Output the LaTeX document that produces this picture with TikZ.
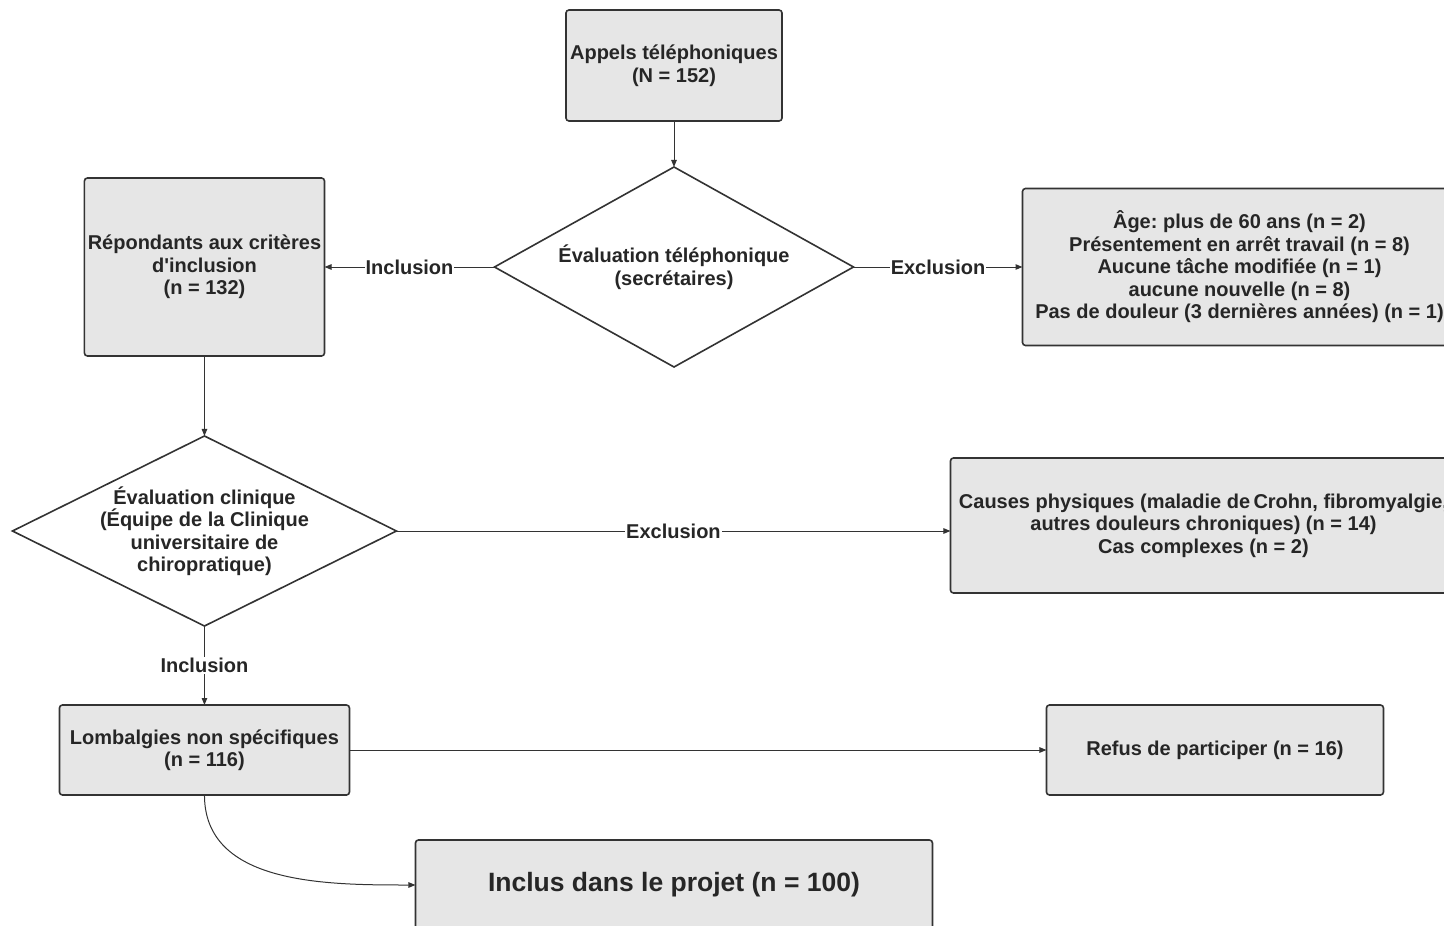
\documentclass[tikz,border=0pt]{standalone}
\usepackage{fontspec}
\setmainfont{Liberation Sans}
\usetikzlibrary{arrows.meta, positioning, shapes.geometric}

\definecolor{boxfill}{HTML}{E6E6E6}
\definecolor{boxline}{HTML}{333333}
\definecolor{textgray}{HTML}{262626}

\frenchspacing

\begin{document}
\begin{tikzpicture}[
		x=1pt, y=1pt,
		>={Triangle[length=7pt, width=5.5pt]},
		box/.style={draw=boxline, line width=1.6pt, rectangle, rounded corners=3pt, outer sep=0pt, align=center, fill=boxfill, text=textgray, font=\bfseries\fontsize{20}{22.5}\selectfont},
		decision/.style={draw=boxline, line width=1.6pt, diamond, aspect=2, inner sep=-3pt, outer sep=0pt, align=center, fill=white, text=textgray, font=\bfseries\fontsize{20}{22.5}\selectfont},
		link/.style={->, draw=boxline, line width=1pt},
		lbl/.style={fill=white, inner sep=1pt, text=textgray, font=\bfseries\fontsize{20}{22.5}\selectfont}
	]

	\useasboundingbox (0,0) rectangle (1444,-926);

	% Nodes
	\node[box, minimum width=216pt, minimum height=111pt] (appels) at (674,-65.5) {Appels téléphoniques \\ (N = 152)};
	\node[decision, below=46pt of appels, minimum width=359pt, minimum height=200pt] (evaltel) {Évaluation téléphonique \\ (secrétaires)};

	\node[box, left=170pt of evaltel, minimum width=240pt, minimum height=178pt] (repondants) {Répondants aux critères \\ d\textquotesingle inclusion \\ (n = 132)};
	\node[box, right=169pt of evaltel, minimum width=434pt, minimum height=157pt] (exclutel) {Âge: plus de 60 ans (n = 2) \\ Présentement en arrêt travail (n = 8) \\ Aucune tâche modifiée (n = 1) \\ aucune nouvelle (n = 8) \\ Pas de douleur (3 dernières années) (n = 1)};

	\node[decision, below=80pt of repondants, minimum width=384pt, minimum height=190pt] (evalclin) {Évaluation clinique \\ (Équipe de la Clinique \\ universitaire de \\ chiropratique)};
	\node[box, right=554pt of evalclin, yshift=5.5pt, minimum width=506pt, minimum height=135pt] (excluclin) {Causes physiques (maladie de\,Crohn, fibromyalgie, \\ autres douleurs chroniques) (n = 14) \\ Cas complexes (n = 2)};

	\node[box, below=79pt of evalclin, minimum width=290pt, minimum height=90pt] (lombalgies) {Lombalgies non spécifiques \\ (n = 116)};
	\node[box, right=697pt of lombalgies, minimum width=337pt, minimum height=90pt] (refus) {Refus de participer (n = 16)};

	\node[box, below right=45pt and 66pt of lombalgies, minimum width=517pt, minimum height=90pt, font=\bfseries\fontsize{26.5}{30}\selectfont] (inclus) {Inclus dans le projet (n = 100)};

	% Arrows
	\draw[link] (appels) -- (evaltel);

	\draw[link] (evaltel) -- node[lbl] {Inclusion} (repondants);
	\draw[link] (evaltel) -- node[lbl] {Exclusion} (exclutel);

	\draw[link] (repondants) -- (evalclin);

	\draw[link] (evalclin.east) -- node[lbl] {Exclusion} (evalclin.east -| excluclin.west);
	\draw[link] (evalclin) -- node[lbl] {Inclusion} (lombalgies);

	\draw[link] (lombalgies) -- (refus);
	\draw[link] (lombalgies.south) to[out=-90, in=180] (inclus.west);

\end{tikzpicture}
\end{document}
